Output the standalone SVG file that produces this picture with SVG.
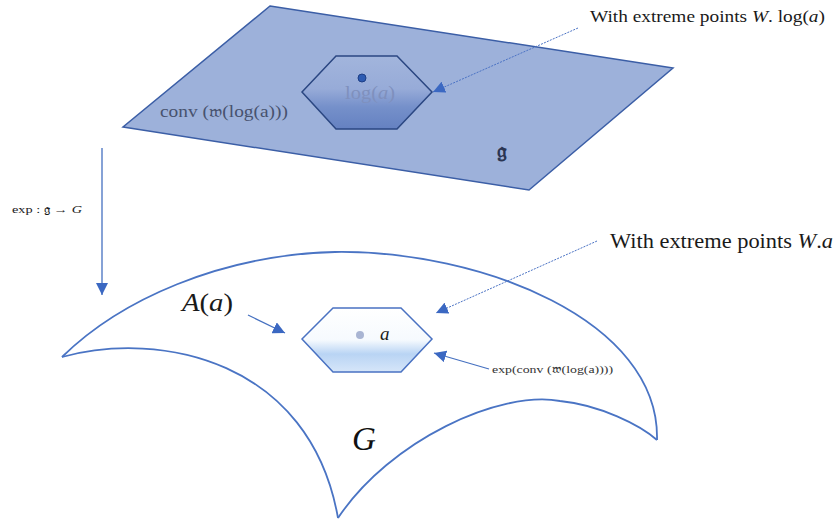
<svg xmlns="http://www.w3.org/2000/svg" width="840" height="527" viewBox="0 0 840 527">
<defs>
<linearGradient id="gTop" x1="0" y1="0" x2="0" y2="1">
<stop offset="0" stop-color="#a2b5dc"/>
<stop offset="0.45" stop-color="#97abd8"/>
<stop offset="0.7" stop-color="#7590ca"/>
<stop offset="1" stop-color="#6581c1"/>
</linearGradient>
<linearGradient id="gBot" x1="0" y1="0" x2="0" y2="1">
<stop offset="0" stop-color="#ffffff"/>
<stop offset="0.5" stop-color="#f6fafe"/>
<stop offset="0.72" stop-color="#b9d4f4"/>
<stop offset="1" stop-color="#d6e6f9"/>
</linearGradient>
<marker id="ah" viewBox="0 0 12 12" refX="12" refY="6" markerWidth="12" markerHeight="12" markerUnits="userSpaceOnUse" orient="auto">
<path d="M0,0 L12,6 L0,12 z" fill="#3b68c2"/>
</marker>
</defs>
<style>
.serif{font-family:"Liberation Serif","DejaVu Serif",serif}
.it{font-style:italic}
.up{font-style:normal}
.edge{stroke:#4570c0;stroke-width:1.3;fill:none}
.dash{stroke:#4a72c4;stroke-width:1;stroke-dasharray:2,1.2;fill:none}
.curve{stroke:#4a74c4;stroke-width:1.8;fill:none}
</style>
<rect width="840" height="527" fill="#ffffff"/>

<g id="lie-algebra-plane">
<polygon points="270,6 673,68 529,190 123,127" fill="#9db1da" stroke="#3b5ea6" stroke-width="1.5"/>
<text class="serif" x="160" y="117" font-size="16" fill="#47526e" textLength="128" lengthAdjust="spacingAndGlyphs">conv (𝔴(log(a)))</text>
<text class="serif" x="497" y="158" font-size="22" font-weight="bold" fill="#2b3552">𝔤</text>
</g>

<g id="log-hexagon">
<polygon points="302,92 336,56 397,56 432,92 397,129 336,129" fill="url(#gTop)" stroke="#2b4782" stroke-width="1.5"/>
<text class="serif" x="345" y="99" font-size="18" fill="#7f90bd" textLength="50" lengthAdjust="spacingAndGlyphs">log(<tspan class="it">a</tspan>)</text>
<circle cx="362" cy="78" r="4" fill="#2d5bb2" stroke="#1e3f86" stroke-width="1"/>
</g>

<g id="label-top-extreme">
<text class="serif" x="590" y="22" font-size="17" fill="#1a1a1a" textLength="235" lengthAdjust="spacingAndGlyphs">With extreme points <tspan class="it">W</tspan>. log(<tspan class="it">a</tspan>)</text>
</g>

<g id="label-exp">
<text class="serif" x="12" y="213" font-size="11" fill="#1a1a1a" textLength="70" lengthAdjust="spacingAndGlyphs">exp : 𝔤 → <tspan class="it">G</tspan></text>
</g>

<g id="group-G">
<path class="curve" d="M62,357 C120,300 220,255 335,252 C480,250 660,320 657,440"/>
<rect x="172" y="271" width="11" height="10" fill="#ffffff" transform="rotate(-20 177 276)"/>
<path class="curve" d="M62,357 C160,330 310,360 338,518"/>
<path class="curve" d="M338,518 C390,440 500,390 560,401 C600,405 640,425 657,440"/>
<text class="serif it" x="352" y="450" font-size="33" fill="#111111">G</text>
</g>

<g id="label-Aa">
<text class="serif" x="182" y="311" font-size="25" fill="#1a1a1a" textLength="51" lengthAdjust="spacingAndGlyphs"><tspan class="it">A</tspan>(<tspan class="it">a</tspan>)</text>
</g>

<g id="exp-hexagon">
<polygon points="302,339 333,308 401,308 432,339 401,372 333,372" fill="url(#gBot)" stroke="#4a72c2" stroke-width="1.5"/>
<circle cx="360" cy="335" r="4" fill="#a9b5d3"/>
<text class="serif it" x="380" y="340" font-size="19" fill="#1a1a1a">a</text>
</g>

<g id="label-bottom-extreme">
<text class="serif" x="610" y="248" font-size="21" fill="#1a1a1a" textLength="223" lengthAdjust="spacingAndGlyphs">With extreme points <tspan class="it">W</tspan>.<tspan class="it">a</tspan></text>
</g>

<g id="label-expconv">
<text class="serif" x="492" y="373" font-size="11" fill="#333333" textLength="121" lengthAdjust="spacingAndGlyphs">exp(conv (𝔴(log(a))))</text>
</g>

<g id="connectors">
<line class="edge" x1="102" y1="148" x2="102" y2="295" marker-end="url(#ah)"/>
<line class="dash" x1="578" y1="28" x2="433" y2="92" marker-end="url(#ah)"/>
<line class="dash" x1="597" y1="241" x2="436" y2="313" marker-end="url(#ah)"/>
<line class="edge" x1="248" y1="315" x2="285" y2="333" marker-end="url(#ah)"/>
<line class="edge" x1="489" y1="369" x2="434" y2="353" marker-end="url(#ah)"/>
</g>
</svg>
